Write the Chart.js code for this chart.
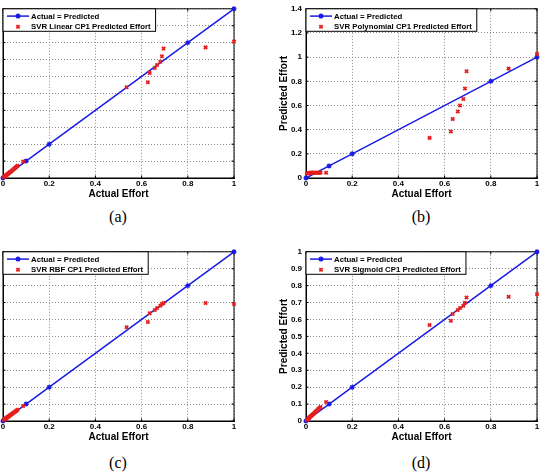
<!DOCTYPE html>
<html>
<head>
<meta charset="utf-8">
<script src="https://cdn.jsdelivr.net/npm/chart.js@4/dist/chart.umd.min.js"></script>
<style>
  html, body { margin: 0; padding: 0; background: #fff; }
  body { width: 545px; height: 474px; overflow: hidden; position: relative; }
  .plot { position: absolute; width: 275px; height: 200px; }
  .cap { position: absolute; width: 60px; text-align: center; font: 16px "Liberation Serif", "Times New Roman", serif; color: #000; line-height: 16px; }
</style>
</head>
<body>
<div class="plot" style="left:-33px; top:0;"><canvas id="cA" width="275" height="200"></canvas></div>
<div class="plot" style="left:270px; top:0;"><canvas id="cB" width="275" height="200"></canvas></div>
<div class="plot" style="left:-33px; top:243px;"><canvas id="cC" width="275" height="200"></canvas></div>
<div class="plot" style="left:270px; top:243px;"><canvas id="cD" width="275" height="200"></canvas></div>
<div class="cap" style="left:88px; top:209px;">(a)</div>
<div class="cap" style="left:391px; top:209px;">(b)</div>
<div class="cap" style="left:88px; top:455px;">(c)</div>
<div class="cap" style="left:391px; top:455px;">(d)</div>
<script>
// actual effort of the projects (normalised), same for all four plots
const actualEffort = [1.0, 0.877, 0.695, 0.688, 0.681, 0.667, 0.657, 0.635, 0.627, 0.535,
  0.087, 0.063, 0.058, 0.053, 0.048, 0.042, 0.037, 0.032, 0.028, 0.024, 0.020, 0.017, 0.014, 0.011, 0.008, 0.004];

// predicted effort per kernel
const linearPred  = [0.807, 0.772, 0.766, 0.720, 0.687, 0.668, 0.650, 0.620, 0.566, 0.537,
  0.098, 0.072, 0.066, 0.060, 0.054, 0.047, 0.042, 0.036, 0.032, 0.027, 0.023, 0.019, 0.016, 0.013, 0.009, 0.005];
const polyPred    = [1.027, 0.905, 0.884, 0.741, 0.654, 0.600, 0.551, 0.489, 0.384, 0.332,
  0.043, 0.044, 0.044, 0.043, 0.043, 0.044, 0.043, 0.043, 0.044, 0.043, 0.043, 0.042, 0.042, 0.041, 0.040, 0.040];
const rbfPred     = [0.691, 0.697, 0.697, 0.691, 0.681, 0.668, 0.656, 0.637, 0.585, 0.554,
  0.089, 0.066, 0.061, 0.056, 0.051, 0.045, 0.040, 0.035, 0.031, 0.027, 0.023, 0.020, 0.017, 0.014, 0.011, 0.007];
const sigmoidPred = [0.749, 0.734, 0.730, 0.699, 0.681, 0.668, 0.656, 0.633, 0.593, 0.568,
  0.112, 0.083, 0.077, 0.071, 0.064, 0.056, 0.049, 0.042, 0.037, 0.032, 0.027, 0.023, 0.019, 0.015, 0.011, 0.006];

// Actual = Predicted reference line
const refLine = [0, 0.1, 0.2, 0.8, 1];

const xTicks = [0, 0.2, 0.4, 0.6, 0.8, 1];

const BLUE = "#1a1ae6";
const RED = "#e61e1e";
const SANS = "'Liberation Sans', Arial, Helvetica, sans-serif";
const fmt = v => String(+(+v).toFixed(2));

// box round the axes + small inward ticks, like matlab
const boxPlugin = {
  id: "box",
  beforeDatasetsDraw(chart) {
    const { ctx, chartArea: a, scales } = chart;
    ctx.save();
    ctx.strokeStyle = "#000";
    ctx.lineWidth = 1;
    ctx.strokeRect(a.left, a.top, a.right - a.left, a.bottom - a.top);
    ctx.beginPath();
    const tl = 2.5;
    scales.x.ticks.forEach(t => {
      const px = scales.x.getPixelForValue(t.value);
      ctx.moveTo(px, a.bottom); ctx.lineTo(px, a.bottom - tl);
      ctx.moveTo(px, a.top); ctx.lineTo(px, a.top + tl);
    });
    scales.y.ticks.forEach(t => {
      const py = scales.y.getPixelForValue(t.value);
      ctx.moveTo(a.left, py); ctx.lineTo(a.left + tl, py);
      ctx.moveTo(a.right, py); ctx.lineTo(a.right - tl, py);
    });
    ctx.stroke();
    ctx.restore();
  }
};

// legend inside the top-left corner with a frame
const legendBox = {
  id: "legendBox",
  afterDraw(chart) {
    const { ctx, chartArea: a } = chart;
    const ref = chart.data.datasets[1];
    const pred = chart.data.datasets[0];
    ctx.save();
    ctx.font = "bold 7.8px " + SANS;
    const w = 28 + Math.max(ctx.measureText(ref.label).width, ctx.measureText(pred.label).width) + 5;
    const h = 22.5;
    const x0 = a.left, y0 = a.top;
    ctx.fillStyle = "#fff";
    ctx.fillRect(x0, y0, w, h);
    ctx.strokeStyle = "#000";
    ctx.lineWidth = 1;
    ctx.strokeRect(x0, y0, w, h);

    const r1 = y0 + 7.3, r2 = y0 + 18;
    ctx.strokeStyle = ref.borderColor;
    ctx.lineWidth = ref.borderWidth;
    ctx.beginPath();
    ctx.moveTo(x0 + 4, r1); ctx.lineTo(x0 + 26, r1);
    ctx.stroke();
    const dp = Chart.helpers && Chart.helpers.drawPoint;
    if (dp) {
      dp(ctx, { pointStyle: ref.pointStyle, radius: ref.pointRadius, borderWidth: ref.pointBorderWidth, rotation: 0 }, x0 + 15, r1);
      ctx.strokeStyle = pred.borderColor;
      ctx.fillStyle = pred.backgroundColor;
      ctx.lineWidth = pred.pointBorderWidth;
      dp(ctx, { pointStyle: pred.pointStyle, radius: pred.pointRadius, borderWidth: pred.pointBorderWidth, rotation: 0 }, x0 + 15, r2);
    }
    ctx.fillStyle = "#000";
    ctx.textBaseline = "middle";
    ctx.fillText(ref.label, x0 + 28, r1 + 0.5);
    ctx.fillText(pred.label, x0 + 28, r2 + 0.5);
    ctx.restore();
  }
};

function makeChart(id, pred, label, yMax, yStep) {
  const ctx = document.getElementById(id).getContext("2d");
  return new Chart(ctx, {
    type: "scatter",
    data: {
      datasets: [{
        label: label,
        data: actualEffort.map((x, i) => ({ x: x, y: pred[i] })),
        pointStyle: "crossRot",
        pointRadius: 2.3,
        pointBorderWidth: 1.8,
        borderColor: RED,
        backgroundColor: RED,
        showLine: false,
        clip: false
      }, {
        label: "Actual = Predicted",
        data: refLine.map(v => ({ x: v, y: v })),
        showLine: true,
        borderColor: BLUE,
        backgroundColor: BLUE,
        borderWidth: 1.5,
        pointStyle: "star",
        pointRadius: 2.5,
        pointBorderWidth: 1.3,
        pointBorderColor: BLUE,
        clip: false
      }]
    },
    options: {
      responsive: false,
      animation: false,
      layout: { padding: { top: 5, right: 8, left: 0, bottom: 0 } },
      plugins: { legend: { display: false }, tooltip: { enabled: false } },
      scales: {
        x: {
          type: "linear", min: 0, max: 1,
          afterBuildTicks: s => { s.ticks = xTicks.map(v => ({ value: v })); },
          afterFit: s => { s.height = 22; },
          ticks: { font: { family: SANS, size: 8, weight: "bold" }, color: "#000", padding: 1, maxRotation: 0, callback: fmt },
          grid: { color: "#8c8c8c", drawTicks: false, lineWidth: 1 },
          border: { display: true, color: "#000", dash: [1, 2] },
          title: { display: true, text: "Actual Effort", color: "#000",
                   font: { family: SANS, size: 10, weight: "bold" }, padding: { top: 0, bottom: 0 } }
        },
        y: {
          type: "linear", min: 0, max: yMax,
          ticks: { stepSize: yStep, font: { family: SANS, size: 8, weight: "bold" }, color: "#000", padding: 4, callback: fmt },
          afterFit: s => { s.width = 36; },
          grid: { color: "#8c8c8c", drawTicks: false, lineWidth: 1 },
          border: { display: true, color: "#000", dash: [1, 2] },
          title: { display: true, text: "Predicted Effort", color: "#000",
                   font: { family: SANS, size: 10, weight: "bold" }, padding: { top: 8, bottom: 0 } }
        }
      }
    },
    plugins: [boxPlugin, legendBox]
  });
}

makeChart("cA", linearPred, "SVR Linear CP1 Predicted Effort", 1, 0.1);
makeChart("cB", polyPred, "SVR Polynomial CP1 Predicted Effort", 1.4, 0.2);
makeChart("cC", rbfPred, "SVR RBF CP1 Predicted Effort", 1, 0.1);
makeChart("cD", sigmoidPred, "SVR Sigmoid CP1 Predicted Effort", 1, 0.1);
</script>
</body>
</html>
